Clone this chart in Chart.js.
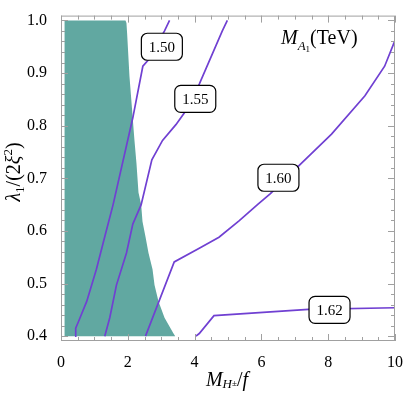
<!DOCTYPE html>
<html>
<head>
<meta charset="utf-8">
<script src="https://cdn.jsdelivr.net/npm/chart.js@4.4.1/dist/chart.umd.min.js"></script>
<style>
  html, body { margin: 0; padding: 0; background: #fff; }
</style>
</head>
<body>
<canvas id="myChart" width="407" height="393"></canvas>
<script>
// teal excluded region, traced along its right edge
const excludedRegion = [[0.1, 0.4], [0.1, 1.0], [1.93, 1.0], [1.96, 0.995], [1.98, 0.975],
  [2.05, 0.894], [2.20, 0.772], [2.26, 0.728], [2.32, 0.673], [2.40, 0.650], [2.44, 0.618],
  [2.53, 0.589], [2.62, 0.558], [2.74, 0.527], [2.80, 0.497], [2.92, 0.466], [3.10, 0.435],
  [3.36, 0.406], [3.42, 0.4]];

// contour lines of M_A1 (TeV)
const contour150 = [[0.42, 0.4], [0.44, 0.415], [0.50, 0.424], [0.77, 0.466], [1.06, 0.527],
  [1.31, 0.589], [1.56, 0.650], [2.15, 0.815], [2.45, 0.913], [2.60, 0.924], [3.10, 0.980], [3.25, 1.0]];
const contour155 = [[1.31, 0.4], [1.46, 0.435], [1.66, 0.497], [1.96, 0.558], [2.15, 0.613],
  [2.40, 0.650], [2.72, 0.735], [3.04, 0.772], [3.44, 0.802], [3.69, 0.824], [4.14, 0.879],
  [4.83, 0.980], [4.98, 1.0]];
const contour160 = [[2.53, 0.4], [3.39, 0.541], [4.14, 0.567], [4.73, 0.588], [5.33, 0.619],
  [5.90, 0.651], [6.27, 0.671], [7.11, 0.723], [8.10, 0.784], [9.10, 0.857], [9.69, 0.913], [10.0, 0.962]];
const contour162 = [[4.04, 0.4], [4.14, 0.405], [4.58, 0.439], [7.41, 0.451], [10.0, 0.454]];

// contour labels and where they sit
const labelTexts = ['1.50', '1.55', '1.60', '1.62'];
const labelSpots = [[3.02, 0.950], [4.02, 0.851], [6.51, 0.701], [8.04, 0.450]];

const xTicks = [0, 2, 4, 6, 8, 10];
const yTicks = [0.4, 0.5, 0.6, 0.7, 0.8, 0.9, 1.0];

const purple = '#7040d2';
const teal = '#61a8a1';
const serif = '"Liberation Serif", "Times New Roman", serif';

const toPts = arr => arr.map(p => ({x: p[0], y: p[1]}));

function drawRuns(ctx, runs, x, y, align) {
  let w = 0;
  runs.forEach(r => { ctx.font = r.font; w += ctx.measureText(r.t).width; });
  let cx = align === 'center' ? x - w / 2 : x;
  runs.forEach(r => {
    ctx.font = r.font;
    ctx.fillText(r.t, cx, y + (r.dy || 0));
    cx += ctx.measureText(r.t).width;
  });
}

const decorations = {
  id: 'decorations',
  afterDatasetsDraw(chart) {
    const ctx = chart.ctx;
    const xs = chart.scales.x, ys = chart.scales.y;
    ctx.save();
    ctx.font = '15px ' + serif;
    ctx.textAlign = 'center';
    ctx.textBaseline = 'middle';
    labelTexts.forEach((t, i) => {
      const px = xs.getPixelForValue(labelSpots[i][0]);
      const py = ys.getPixelForValue(labelSpots[i][1]);
      const w = 41, h = 27;
      ctx.beginPath();
      ctx.roundRect(px - w / 2, py - h / 2, w, h, 6);
      ctx.fillStyle = '#fff';
      ctx.fill();
      ctx.lineWidth = 1.2;
      ctx.strokeStyle = '#000';
      ctx.stroke();
      ctx.fillStyle = '#000';
      ctx.fillText(t, px, py + 1);
    });
    ctx.restore();
  },
  afterDraw(chart) {
    const ctx = chart.ctx;
    const a = chart.chartArea;
    const xs = chart.scales.x, ys = chart.scales.y;
    ctx.save();
    // frame
    ctx.strokeStyle = '#a0a0a0';
    ctx.lineWidth = 1;
    ctx.strokeRect(a.left + 0.5, a.top + 0.5, a.right - a.left - 1, a.bottom - a.top - 1);
    // inward ticks on all four sides
    ctx.beginPath();
    for (let i = 0; i <= 20; i++) {
      const v = i * 0.5;
      const px = Math.round(xs.getPixelForValue(v)) + 0.5;
      const len = i % 4 === 0 ? 7 : 4;
      ctx.moveTo(px, a.bottom); ctx.lineTo(px, a.bottom - len);
      ctx.moveTo(px, a.top); ctx.lineTo(px, a.top + len);
    }
    for (let i = 0; i <= 30; i++) {
      const v = 0.4 + i * 0.02;
      const py = Math.round(ys.getPixelForValue(v)) + 0.5;
      const len = i % 5 === 0 ? 7 : 4;
      ctx.moveTo(a.left, py); ctx.lineTo(a.left + len, py);
      ctx.moveTo(a.right, py); ctx.lineTo(a.right - len, py);
    }
    ctx.stroke();

    ctx.fillStyle = '#000';
    ctx.textBaseline = 'alphabetic';
    // title inside the plot
    drawRuns(ctx, [
      {t: 'M', font: 'italic 20px ' + serif},
      {t: 'A', font: 'italic 13px ' + serif, dy: 6},
      {t: '1', font: '9px ' + serif, dy: 8},
      {t: '(TeV)', font: '20px ' + serif}
    ], 281, 44, 'left');
    // x axis title
    drawRuns(ctx, [
      {t: 'M', font: 'italic 20px ' + serif},
      {t: 'H', font: 'italic 13px ' + serif, dy: 2},
      {t: '±', font: '9px ' + serif, dy: 0},
      {t: '/', font: '20px ' + serif},
      {t: 'f', font: 'italic 20px ' + serif}
    ], 227, 386, 'center');
    // y axis title, rotated
    ctx.translate(20, 172);
    ctx.rotate(-Math.PI / 2);
    drawRuns(ctx, [
      {t: 'λ', font: 'italic 20px ' + serif},
      {t: '1', font: '13px ' + serif, dy: 4},
      {t: '/(2', font: '20px ' + serif},
      {t: 'ξ', font: 'italic 20px ' + serif},
      {t: '2', font: '13px ' + serif, dy: -8},
      {t: ')', font: '20px ' + serif}
    ], 0, 0, 'center');
    ctx.restore();
  }
};

const lineStyle = {
  borderColor: purple,
  borderWidth: 1.7,
  pointRadius: 0,
  fill: false,
  tension: 0,
  order: 1
};

const ctx = document.getElementById('myChart').getContext('2d');
const myChart = new Chart(ctx, {
  type: 'line',
  data: {
    datasets: [
      {
        label: 'excluded',
        data: toPts(excludedRegion),
        borderWidth: 0,
        borderColor: teal,
        backgroundColor: teal,
        pointRadius: 0,
        fill: {value: 0.4},
        tension: 0,
        order: 2
      },
      Object.assign({label: '1.50', data: toPts(contour150)}, lineStyle),
      Object.assign({label: '1.55', data: toPts(contour155)}, lineStyle),
      Object.assign({label: '1.60', data: toPts(contour160)}, lineStyle),
      Object.assign({label: '1.62', data: toPts(contour162)}, lineStyle)
    ]
  },
  options: {
    responsive: false,
    animation: false,
    devicePixelRatio: 1,
    layout: {padding: {left: 0, right: 10, top: 4, bottom: 0}},
    plugins: {
      legend: {display: false},
      tooltip: {enabled: false}
    },
    scales: {
      x: {
        type: 'linear',
        min: 0,
        max: 10,
        afterBuildTicks: s => { s.ticks = xTicks.map(v => ({value: v})); },
        afterFit: s => { s.height = 52; },
        grid: {display: false},
        border: {display: false},
        ticks: {
          font: {family: serif, size: 16},
          color: '#000',
          padding: 4,
          maxRotation: 0,
          callback: v => String(v)
        }
      },
      y: {
        type: 'linear',
        min: 0.3908,
        max: 1.0092,
        afterBuildTicks: s => { s.ticks = yTicks.map(v => ({value: v})); },
        afterFit: s => { s.width = 61; },
        grid: {display: false},
        border: {display: false},
        ticks: {
          font: {family: serif, size: 16},
          color: '#000',
          padding: 6,
          callback: v => v.toFixed(1)
        }
      }
    }
  },
  plugins: [decorations]
});
</script>
</body>
</html>
